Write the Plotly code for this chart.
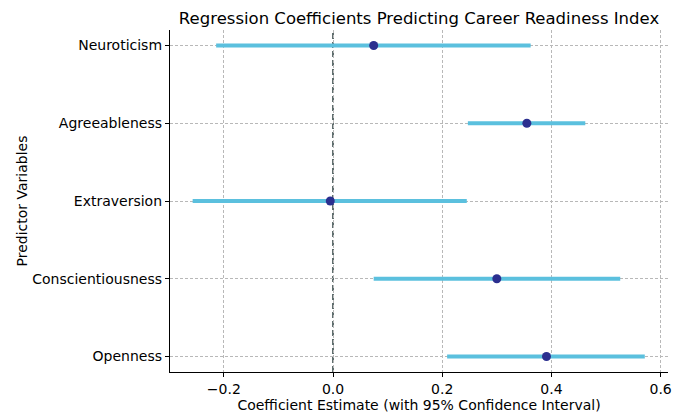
import plotly.graph_objects as go

predictors = ["Openness", "Conscientiousness", "Extraversion", "Agreeableness", "Neuroticism"]
estimates = [0.391, 0.300, -0.005, 0.355, 0.0745]
ci_low = [0.209, 0.0745, -0.257, 0.247, -0.214]
ci_high = [0.571, 0.526, 0.245, 0.462, 0.362]
x_ticks = [-0.2, 0.0, 0.2, 0.4, 0.6]
x_tick_labels = ["\u22120.2", "0.0", "0.2", "0.4", "0.6"]

ypos = list(range(len(predictors)))

lx, ly = [], []
for i in ypos:
    lx += [ci_low[i], ci_high[i], None]
    ly += [i, i, None]

fig = go.Figure()
fig.add_trace(go.Scatter(x=lx, y=ly, mode="lines",
                         line=dict(color="#5bc0de", width=4),
                         showlegend=False, hoverinfo="skip"))
fig.add_trace(go.Scatter(x=estimates, y=ypos, mode="markers",
                         marker=dict(color="#2b2f8f", size=9),
                         showlegend=False))

fig.add_shape(type="line", xref="x", yref="paper", x0=0, x1=0, y0=0, y1=1,
              line=dict(color="#4f5f5f", width=1.8, dash="6px,3px"), layer="below")

font_family = "DejaVu Sans, sans-serif"
# page body adds an 8px offset; the figure is sized to fit the visible window
fig.update_layout(
    width=674, height=405,
    margin=dict(l=162, r=14, t=22, b=41, autoexpand=False),
    paper_bgcolor="white", plot_bgcolor="white",
    font=dict(family=font_family, color="black", size=14),
    title=dict(text="Regression Coefficients Predicting Career Readiness Index",
               x=0.5, xref="paper", xanchor="center", y=0.975, yanchor="middle",
               font=dict(size=16.5, family=font_family, color="black")),
    xaxis=dict(range=[-0.2985, 0.6135], tickvals=x_ticks, ticktext=x_tick_labels,
               showgrid=True, gridcolor="#b8b8b8", griddash="3px,2px", gridwidth=0.8,
               zeroline=False, showline=True, linecolor="black", linewidth=1.3,
               ticks="outside", ticklen=4, tickcolor="black", tickfont=dict(size=14),
               automargin=False,
               title=dict(text="Coefficient Estimate (with 95% Confidence Interval)",
                          font=dict(size=14), standoff=0)),
    yaxis=dict(range=[-0.2, 4.2], tickvals=ypos, ticktext=predictors,
               showgrid=True, gridcolor="#b8b8b8", griddash="3px,2px", gridwidth=0.8,
               zeroline=False, showline=True, linecolor="black", linewidth=1.3,
               ticks="outside", ticklen=4, tickcolor="black", tickfont=dict(size=14),
               automargin=False,
               title=dict(text="Predictor Variables", font=dict(size=14), standoff=1)),
)

fig.write_html("out.html")
